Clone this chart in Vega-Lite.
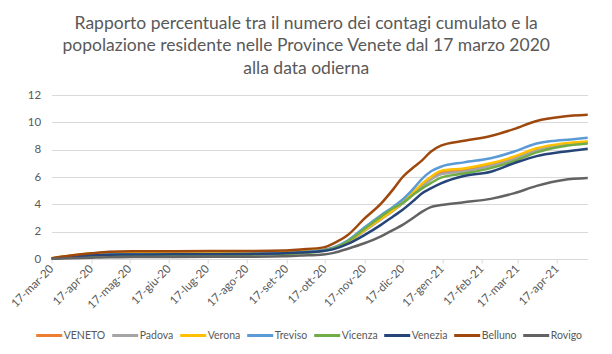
{
  "$schema": "https://vega.github.io/schema/vega-lite/v6.json",
  "autosize": {"type": "none"},
  "width": 536,
  "height": 164,
  "padding": {"left": 51.7, "top": 95, "right": 24.3, "bottom": 95},
  "background": "white",
  "title": {
    "text": ["Rapporto percentuale tra il numero dei contagi cumulato e la", "popolazione residente nelle Province Venete dal 17 marzo 2020", "alla data odierna"],
    "font": "Lato",
    "fontSize": 17.5,
    "fontWeight": "normal",
    "color": "#595959",
    "lineHeight": 22.5,
    "anchor": "middle",
    "dx": -13.5,
    "offset": 12
  },
  "config": {
    "view": {"stroke": null},
    "font": "Lato"
  },
  "data": {
    "values": [
      {"d":"2020-03-17","s":"VENETO","v":0.03},{"d":"2020-04-01","s":"VENETO","v":0.2},{"d":"2020-04-17","s":"VENETO","v":0.33},{"d":"2020-05-01","s":"VENETO","v":0.38},{"d":"2020-05-20","s":"VENETO","v":0.39},{"d":"2020-06-20","s":"VENETO","v":0.4},{"d":"2020-07-20","s":"VENETO","v":0.41},{"d":"2020-08-20","s":"VENETO","v":0.43},{"d":"2020-09-15","s":"VENETO","v":0.47},{"d":"2020-09-28","s":"VENETO","v":0.52},{"d":"2020-10-16","s":"VENETO","v":0.64},{"d":"2020-10-24","s":"VENETO","v":0.8},{"d":"2020-11-04","s":"VENETO","v":1.25},{"d":"2020-11-17","s":"VENETO","v":2.1},{"d":"2020-11-30","s":"VENETO","v":2.95},{"d":"2020-12-10","s":"VENETO","v":3.6},{"d":"2020-12-17","s":"VENETO","v":4.1},{"d":"2020-12-26","s":"VENETO","v":4.85},{"d":"2021-01-01","s":"VENETO","v":5.4},{"d":"2021-01-08","s":"VENETO","v":5.9},{"d":"2021-01-16","s":"VENETO","v":6.32},{"d":"2021-02-03","s":"VENETO","v":6.5},{"d":"2021-02-24","s":"VENETO","v":6.88},{"d":"2021-03-14","s":"VENETO","v":7.38},{"d":"2021-04-01","s":"VENETO","v":8.0},{"d":"2021-04-22","s":"VENETO","v":8.4},{"d":"2021-05-11","s":"VENETO","v":8.57},
      {"d":"2020-03-17","s":"Padova","v":0.03},{"d":"2020-04-01","s":"Padova","v":0.2},{"d":"2020-04-17","s":"Padova","v":0.35},{"d":"2020-05-01","s":"Padova","v":0.4},{"d":"2020-05-20","s":"Padova","v":0.41},{"d":"2020-06-20","s":"Padova","v":0.42},{"d":"2020-07-20","s":"Padova","v":0.43},{"d":"2020-08-20","s":"Padova","v":0.45},{"d":"2020-09-15","s":"Padova","v":0.5},{"d":"2020-09-28","s":"Padova","v":0.54},{"d":"2020-10-16","s":"Padova","v":0.62},{"d":"2020-10-24","s":"Padova","v":0.75},{"d":"2020-11-04","s":"Padova","v":1.2},{"d":"2020-11-17","s":"Padova","v":2.05},{"d":"2020-11-30","s":"Padova","v":2.9},{"d":"2020-12-10","s":"Padova","v":3.55},{"d":"2020-12-17","s":"Padova","v":4.05},{"d":"2020-12-26","s":"Padova","v":4.8},{"d":"2021-01-01","s":"Padova","v":5.3},{"d":"2021-01-08","s":"Padova","v":5.8},{"d":"2021-01-16","s":"Padova","v":6.2},{"d":"2021-02-03","s":"Padova","v":6.4},{"d":"2021-02-24","s":"Padova","v":6.8},{"d":"2021-03-14","s":"Padova","v":7.3},{"d":"2021-04-01","s":"Padova","v":7.95},{"d":"2021-04-22","s":"Padova","v":8.35},{"d":"2021-05-11","s":"Padova","v":8.53},
      {"d":"2020-03-17","s":"Verona","v":0.05},{"d":"2020-04-01","s":"Verona","v":0.25},{"d":"2020-04-17","s":"Verona","v":0.4},{"d":"2020-05-01","s":"Verona","v":0.46},{"d":"2020-05-20","s":"Verona","v":0.49},{"d":"2020-06-20","s":"Verona","v":0.5},{"d":"2020-07-20","s":"Verona","v":0.51},{"d":"2020-08-20","s":"Verona","v":0.53},{"d":"2020-09-15","s":"Verona","v":0.56},{"d":"2020-09-28","s":"Verona","v":0.6},{"d":"2020-10-16","s":"Verona","v":0.68},{"d":"2020-10-24","s":"Verona","v":0.8},{"d":"2020-11-04","s":"Verona","v":1.25},{"d":"2020-11-17","s":"Verona","v":2.1},{"d":"2020-11-30","s":"Verona","v":2.95},{"d":"2020-12-10","s":"Verona","v":3.6},{"d":"2020-12-17","s":"Verona","v":4.15},{"d":"2020-12-26","s":"Verona","v":4.95},{"d":"2021-01-01","s":"Verona","v":5.5},{"d":"2021-01-08","s":"Verona","v":6.0},{"d":"2021-01-16","s":"Verona","v":6.45},{"d":"2021-02-03","s":"Verona","v":6.63},{"d":"2021-02-24","s":"Verona","v":7.0},{"d":"2021-03-14","s":"Verona","v":7.48},{"d":"2021-04-01","s":"Verona","v":8.1},{"d":"2021-04-22","s":"Verona","v":8.46},{"d":"2021-05-11","s":"Verona","v":8.6},
      {"d":"2020-03-17","s":"Treviso","v":0.03},{"d":"2020-04-01","s":"Treviso","v":0.15},{"d":"2020-04-17","s":"Treviso","v":0.26},{"d":"2020-05-01","s":"Treviso","v":0.33},{"d":"2020-05-20","s":"Treviso","v":0.35},{"d":"2020-06-20","s":"Treviso","v":0.36},{"d":"2020-07-20","s":"Treviso","v":0.37},{"d":"2020-08-20","s":"Treviso","v":0.39},{"d":"2020-09-15","s":"Treviso","v":0.44},{"d":"2020-09-28","s":"Treviso","v":0.5},{"d":"2020-10-16","s":"Treviso","v":0.66},{"d":"2020-10-24","s":"Treviso","v":0.85},{"d":"2020-11-04","s":"Treviso","v":1.35},{"d":"2020-11-17","s":"Treviso","v":2.3},{"d":"2020-11-30","s":"Treviso","v":3.2},{"d":"2020-12-10","s":"Treviso","v":3.85},{"d":"2020-12-17","s":"Treviso","v":4.35},{"d":"2020-12-26","s":"Treviso","v":5.2},{"d":"2021-01-01","s":"Treviso","v":5.85},{"d":"2021-01-08","s":"Treviso","v":6.4},{"d":"2021-01-16","s":"Treviso","v":6.75},{"d":"2021-02-03","s":"Treviso","v":7.07},{"d":"2021-02-24","s":"Treviso","v":7.37},{"d":"2021-03-14","s":"Treviso","v":7.85},{"d":"2021-04-01","s":"Treviso","v":8.45},{"d":"2021-04-22","s":"Treviso","v":8.7},{"d":"2021-05-11","s":"Treviso","v":8.88},
      {"d":"2020-03-17","s":"Vicenza","v":0.02},{"d":"2020-04-01","s":"Vicenza","v":0.12},{"d":"2020-04-17","s":"Vicenza","v":0.22},{"d":"2020-05-01","s":"Vicenza","v":0.27},{"d":"2020-05-20","s":"Vicenza","v":0.28},{"d":"2020-06-20","s":"Vicenza","v":0.29},{"d":"2020-07-20","s":"Vicenza","v":0.3},{"d":"2020-08-20","s":"Vicenza","v":0.32},{"d":"2020-09-15","s":"Vicenza","v":0.36},{"d":"2020-09-28","s":"Vicenza","v":0.42},{"d":"2020-10-16","s":"Vicenza","v":0.6},{"d":"2020-10-24","s":"Vicenza","v":0.8},{"d":"2020-11-04","s":"Vicenza","v":1.3},{"d":"2020-11-17","s":"Vicenza","v":2.2},{"d":"2020-11-30","s":"Vicenza","v":3.1},{"d":"2020-12-10","s":"Vicenza","v":3.75},{"d":"2020-12-17","s":"Vicenza","v":4.1},{"d":"2020-12-26","s":"Vicenza","v":4.75},{"d":"2021-01-01","s":"Vicenza","v":5.15},{"d":"2021-01-08","s":"Vicenza","v":5.55},{"d":"2021-01-16","s":"Vicenza","v":5.95},{"d":"2021-02-03","s":"Vicenza","v":6.25},{"d":"2021-02-24","s":"Vicenza","v":6.65},{"d":"2021-03-14","s":"Vicenza","v":7.15},{"d":"2021-04-01","s":"Vicenza","v":7.8},{"d":"2021-04-22","s":"Vicenza","v":8.25},{"d":"2021-05-11","s":"Vicenza","v":8.45},
      {"d":"2020-03-17","s":"Venezia","v":0.03},{"d":"2020-04-01","s":"Venezia","v":0.15},{"d":"2020-04-17","s":"Venezia","v":0.27},{"d":"2020-05-01","s":"Venezia","v":0.32},{"d":"2020-05-20","s":"Venezia","v":0.33},{"d":"2020-06-20","s":"Venezia","v":0.34},{"d":"2020-07-20","s":"Venezia","v":0.35},{"d":"2020-08-20","s":"Venezia","v":0.37},{"d":"2020-09-15","s":"Venezia","v":0.42},{"d":"2020-09-28","s":"Venezia","v":0.47},{"d":"2020-10-16","s":"Venezia","v":0.58},{"d":"2020-10-24","s":"Venezia","v":0.72},{"d":"2020-11-04","s":"Venezia","v":1.1},{"d":"2020-11-17","s":"Venezia","v":1.75},{"d":"2020-11-30","s":"Venezia","v":2.5},{"d":"2020-12-10","s":"Venezia","v":3.15},{"d":"2020-12-17","s":"Venezia","v":3.6},{"d":"2020-12-26","s":"Venezia","v":4.3},{"d":"2021-01-01","s":"Venezia","v":4.8},{"d":"2021-01-08","s":"Venezia","v":5.17},{"d":"2021-01-16","s":"Venezia","v":5.54},{"d":"2021-02-03","s":"Venezia","v":6.07},{"d":"2021-02-24","s":"Venezia","v":6.39},{"d":"2021-03-14","s":"Venezia","v":7.0},{"d":"2021-04-01","s":"Venezia","v":7.53},{"d":"2021-04-22","s":"Venezia","v":7.85},{"d":"2021-05-11","s":"Venezia","v":8.07},
      {"d":"2020-03-17","s":"Belluno","v":0.05},{"d":"2020-04-01","s":"Belluno","v":0.25},{"d":"2020-04-17","s":"Belluno","v":0.42},{"d":"2020-05-01","s":"Belluno","v":0.53},{"d":"2020-05-20","s":"Belluno","v":0.56},{"d":"2020-06-20","s":"Belluno","v":0.57},{"d":"2020-07-20","s":"Belluno","v":0.58},{"d":"2020-08-20","s":"Belluno","v":0.59},{"d":"2020-09-15","s":"Belluno","v":0.62},{"d":"2020-09-28","s":"Belluno","v":0.7},{"d":"2020-10-16","s":"Belluno","v":0.85},{"d":"2020-10-24","s":"Belluno","v":1.15},{"d":"2020-11-04","s":"Belluno","v":1.75},{"d":"2020-11-17","s":"Belluno","v":2.95},{"d":"2020-11-30","s":"Belluno","v":4.05},{"d":"2020-12-10","s":"Belluno","v":5.15},{"d":"2020-12-17","s":"Belluno","v":6.0},{"d":"2020-12-26","s":"Belluno","v":6.75},{"d":"2021-01-01","s":"Belluno","v":7.2},{"d":"2021-01-08","s":"Belluno","v":7.85},{"d":"2021-01-16","s":"Belluno","v":8.3},{"d":"2021-02-03","s":"Belluno","v":8.65},{"d":"2021-02-24","s":"Belluno","v":9.0},{"d":"2021-03-14","s":"Belluno","v":9.5},{"d":"2021-04-01","s":"Belluno","v":10.1},{"d":"2021-04-22","s":"Belluno","v":10.42},{"d":"2021-05-11","s":"Belluno","v":10.55},
      {"d":"2020-03-17","s":"Rovigo","v":0.01},{"d":"2020-04-01","s":"Rovigo","v":0.06},{"d":"2020-04-17","s":"Rovigo","v":0.1},{"d":"2020-05-01","s":"Rovigo","v":0.13},{"d":"2020-05-20","s":"Rovigo","v":0.14},{"d":"2020-06-20","s":"Rovigo","v":0.15},{"d":"2020-07-20","s":"Rovigo","v":0.16},{"d":"2020-08-20","s":"Rovigo","v":0.17},{"d":"2020-09-15","s":"Rovigo","v":0.2},{"d":"2020-09-28","s":"Rovigo","v":0.25},{"d":"2020-10-16","s":"Rovigo","v":0.33},{"d":"2020-10-24","s":"Rovigo","v":0.45},{"d":"2020-11-04","s":"Rovigo","v":0.75},{"d":"2020-11-17","s":"Rovigo","v":1.15},{"d":"2020-11-30","s":"Rovigo","v":1.65},{"d":"2020-12-10","s":"Rovigo","v":2.15},{"d":"2020-12-17","s":"Rovigo","v":2.5},{"d":"2020-12-26","s":"Rovigo","v":3.05},{"d":"2021-01-01","s":"Rovigo","v":3.45},{"d":"2021-01-08","s":"Rovigo","v":3.8},{"d":"2021-01-16","s":"Rovigo","v":3.95},{"d":"2021-02-03","s":"Rovigo","v":4.15},{"d":"2021-02-24","s":"Rovigo","v":4.4},{"d":"2021-03-14","s":"Rovigo","v":4.8},{"d":"2021-04-01","s":"Rovigo","v":5.35},{"d":"2021-04-22","s":"Rovigo","v":5.78},{"d":"2021-05-11","s":"Rovigo","v":5.92}
    ]
  },
  "mark": {"type": "line", "strokeWidth": 2.5, "interpolate": "monotone"},
  "encoding": {
    "x": {
      "field": "d",
      "type": "temporal",
      "title": null,
      "scale": {"type": "utc", "domain": [{"year": 2020, "month": 3, "date": 17, "utc": true}, {"year": 2021, "month": 5, "date": 11, "utc": true}], "nice": false},
      "axis": {
        "values": [
          {"year": 2020, "month": 3, "date": 17, "utc": true},
          {"year": 2020, "month": 4, "date": 17, "utc": true},
          {"year": 2020, "month": 5, "date": 17, "utc": true},
          {"year": 2020, "month": 6, "date": 17, "utc": true},
          {"year": 2020, "month": 7, "date": 17, "utc": true},
          {"year": 2020, "month": 8, "date": 17, "utc": true},
          {"year": 2020, "month": 9, "date": 17, "utc": true},
          {"year": 2020, "month": 10, "date": 17, "utc": true},
          {"year": 2020, "month": 11, "date": 17, "utc": true},
          {"year": 2020, "month": 12, "date": 17, "utc": true},
          {"year": 2021, "month": 1, "date": 17, "utc": true},
          {"year": 2021, "month": 2, "date": 17, "utc": true},
          {"year": 2021, "month": 3, "date": 17, "utc": true},
          {"year": 2021, "month": 4, "date": 17, "utc": true}
        ],
        "labelExpr": "utcFormat(datum.value, '%d') + '-' + ['gen','feb','mar','apr','mag','giu','lug','ago','set','ott','nov','dic'][utcmonth(datum.value)] + '-' + utcFormat(datum.value, '%y')",
        "labelAngle": -45,
        "labelAlign": "right",
        "labelBaseline": "middle",
        "labelFontSize": 11.5,
        "labelColor": "#595959",
        "labelPadding": 4,
        "labelFont": "Lato",
        "grid": false,
        "domainColor": "#D9D9D9",
        "domainWidth": 1,
        "tickColor": "#D9D9D9",
        "tickSize": 4,
        "labelOverlap": false,
        "labelBound": false,
        "labelFlush": false
      }
    },
    "y": {
      "field": "v",
      "type": "quantitative",
      "title": null,
      "scale": {"domain": [0, 12], "nice": false},
      "axis": {
        "values": [0, 2, 4, 6, 8, 10, 12],
        "domain": false,
        "ticks": false,
        "labelPadding": 11,
        "labelFontSize": 11.5,
        "labelColor": "#595959",
        "labelFont": "Lato",
        "gridColor": "#D9D9D9",
        "gridWidth": 1
      }
    },
    "color": {
      "field": "s",
      "type": "nominal",
      "title": null,
      "sort": ["VENETO", "Padova", "Verona", "Treviso", "Vicenza", "Venezia", "Belluno", "Rovigo"],
      "scale": {
        "domain": ["VENETO", "Padova", "Verona", "Treviso", "Vicenza", "Venezia", "Belluno", "Rovigo"],
        "range": ["#ED7D31", "#A5A5A5", "#FFC000", "#5B9BD5", "#70AD47", "#264478", "#9E480E", "#636363"]
      },
      "legend": {
        "orient": "none",
        "legendX": -17,
        "legendY": 226,
        "direction": "horizontal",
        "gridAlign": "none",
        "columns": 8,
        "symbolType": "stroke",
        "symbolSize": 676,
        "symbolStrokeWidth": 3,
        "labelFontSize": 10.5,
        "labelColor": "#595959",
        "labelFont": "Lato",
        "labelOffset": 0,
        "columnPadding": 0
      }
    }
  }
}
